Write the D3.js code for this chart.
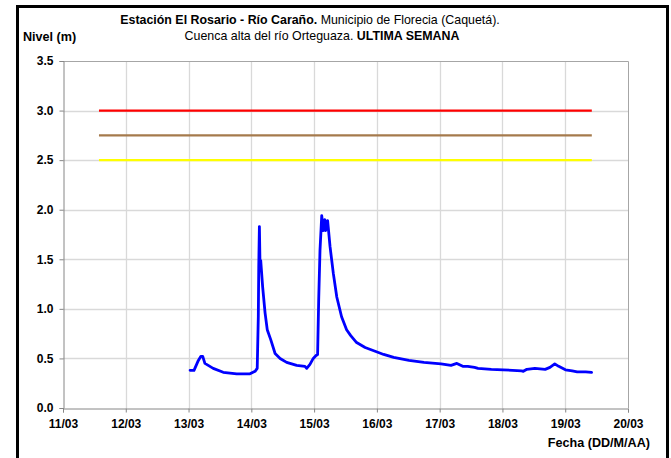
<!DOCTYPE html>
<html>
<head>
<meta charset="utf-8">
<script src="https://cdn.jsdelivr.net/npm/d3@7"></script>
<style>
  html, body { margin: 0; padding: 0; background: #fff; }
  svg { display: block; font-family: "Liberation Sans", Arial, sans-serif; }
</style>
</head>
<body>
<svg id="chart" width="671" height="458"></svg>
<script>
// ---- Data ----
const xTickLabels = ["11/03","12/03","13/03","14/03","15/03","16/03","17/03","18/03","19/03","20/03"];
const yTickValues = [0, 0.5, 1.0, 1.5, 2.0, 2.5, 3.0, 3.5];
const levelTimes = [
  "2014-03-13 00:35","2014-03-13 02:05","2014-03-13 03:45","2014-03-13 04:40","2014-03-13 05:25",
  "2014-03-13 06:15","2014-03-13 09:25","2014-03-13 13:15","2014-03-13 18:25","2014-03-13 23:30",
  "2014-03-14 01:25","2014-03-14 02:15","2014-03-14 02:40","2014-03-14 02:50","2014-03-14 03:05",
  "2014-03-14 03:20","2014-03-14 03:35","2014-03-14 04:20","2014-03-14 05:15","2014-03-14 06:05",
  "2014-03-14 07:25","2014-03-14 09:05","2014-03-14 11:00","2014-03-14 13:30","2014-03-14 17:20",
  "2014-03-14 20:30","2014-03-14 21:10","2014-03-14 22:25","2014-03-14 23:40","2014-03-15 00:45",
  "2014-03-15 01:20","2014-03-15 01:45","2014-03-15 02:15","2014-03-15 02:55","2014-03-15 03:30",
  "2014-03-15 04:05","2014-03-15 04:25","2014-03-15 05:10","2014-03-15 06:05","2014-03-15 07:20",
  "2014-03-15 08:40","2014-03-15 10:30","2014-03-15 12:25","2014-03-15 14:00","2014-03-15 16:15",
  "2014-03-15 19:30","2014-03-16 00:05","2014-03-16 02:35","2014-03-16 06:25","2014-03-16 12:15",
  "2014-03-16 18:00","2014-03-17 00:30","2014-03-17 04:20","2014-03-17 06:35","2014-03-17 08:50",
  "2014-03-17 10:45","2014-03-17 13:20","2014-03-17 14:40","2014-03-17 19:45","2014-03-18 00:15",
  "2014-03-18 07:20","2014-03-18 08:00","2014-03-18 09:20","2014-03-18 12:25","2014-03-18 16:20",
  "2014-03-18 18:10","2014-03-18 20:00","2014-03-18 21:30","2014-03-19 00:05","2014-03-19 02:40",
  "2014-03-19 04:35","2014-03-19 07:50","2014-03-19 10:05"
];
const levelValues = [
  0.38,0.38,0.48,0.52,0.52,
  0.45,0.40,0.36,0.345,0.345,
  0.37,0.40,0.92,1.42,1.83,
  1.42,1.49,1.22,0.96,0.79,
  0.69,0.55,0.50,0.46,0.43,
  0.42,0.40,0.44,0.50,0.53,
  0.54,1.09,1.59,1.94,1.79,
  1.90,1.79,1.89,1.63,1.36,
  1.12,0.92,0.79,0.73,0.66,
  0.61,0.565,0.54,0.51,0.48,
  0.46,0.445,0.43,0.45,0.42,
  0.42,0.41,0.40,0.39,0.385,
  0.375,0.37,0.39,0.40,0.39,
  0.41,0.445,0.42,0.385,0.375,
  0.365,0.365,0.36
];
const thresholdValues = [3.0, 2.75, 2.5];
const thresholdColors = ["#ff0000", "#a57a4c", "#ffff00"];
const thresholdStart = "2014-03-11 13:45";
const thresholdEnd = "2014-03-19 10:10";
const xDomain = ["2014-03-11 00:00", "2014-03-20 00:00"];

// ---- Setup ----
const parse = d3.timeParse("%Y-%m-%d %H:%M");
const svg = d3.select("#chart");
const L = 63, R = 628, T = 61, B = 408;

const x = d3.scaleTime().domain(xDomain.map(parse)).range([L, R]);
const y = d3.scaleLinear().domain([0, 3.5]).range([B, T]);
const xTicks = d3.timeDay.range(parse(xDomain[0]), d3.timeDay.offset(parse(xDomain[1]), 1));

// frame
svg.append("path")
  .attr("d", "M17.5,458 L17.5,6.5 L667.5,6.5 L667.5,458")
  .attr("fill", "none").attr("stroke", "#000").attr("stroke-width", 3);

// gridlines
svg.append("g").selectAll("line").data(yTickValues.filter(v => v > 0 && v < 3.5)).join("line")
  .attr("x1", L).attr("x2", R).attr("y1", d => Math.round(y(d)) + 0.5).attr("y2", d => Math.round(y(d)) + 0.5)
  .attr("stroke", "#d9d9d9").attr("stroke-width", 1.3);
svg.append("g").selectAll("line").data(xTicks.slice(1, -1)).join("line")
  .attr("y1", T).attr("y2", B).attr("x1", d => Math.round(x(d)) + 0.5).attr("x2", d => Math.round(x(d)) + 0.5)
  .attr("stroke", "#d9d9d9").attr("stroke-width", 1.3);

// plot border top/right
svg.append("path").attr("d", `M${L},${T + 0.5} L${R + 0.5},${T + 0.5} L${R + 0.5},${B}`)
  .attr("fill", "none").attr("stroke", "#a6a6a6").attr("stroke-width", 1);

// axes
const yAxis = d3.axisLeft(y).tickValues(yTickValues).tickFormat(d3.format(".1f")).tickSize(4).tickPadding(6);
const gy = svg.append("g").attr("transform", `translate(${L + 0.5},0)`).call(yAxis);
const xAxis = d3.axisBottom(x).tickValues(xTicks.slice(0, 10)).tickFormat((d, i) => xTickLabels[i]).tickSize(4).tickPadding(7);
const gx = svg.append("g").attr("transform", `translate(0,${B + 0.5})`).call(xAxis);
[gx, gy].forEach(g => {
  g.select(".domain").attr("stroke", "#868686");
  g.selectAll(".tick line").attr("stroke", "#868686");
  g.selectAll(".tick text").attr("font-family", "Liberation Sans, Arial, sans-serif")
    .attr("font-size", 12).attr("font-weight", "bold").attr("fill", "#000");
});

// thresholds
svg.append("g").selectAll("line").data(thresholdValues).join("line")
  .attr("x1", x(parse(thresholdStart))).attr("x2", x(parse(thresholdEnd)))
  .attr("y1", d => y(d)).attr("y2", d => y(d))
  .attr("stroke", (d, i) => thresholdColors[i]).attr("stroke-width", 2.2);

// level line
const data = levelTimes.map((t, i) => ({ t: parse(t), v: levelValues[i] }));
svg.append("path").datum(data)
  .attr("d", d3.line().x(d => x(d.t)).y(d => y(d.v)))
  .attr("fill", "none").attr("stroke", "#0000ff").attr("stroke-width", 2.8)
  .attr("stroke-linejoin", "round").attr("stroke-linecap", "round");

// titles
const t1 = svg.append("text").attr("x", 310).attr("y", 24).attr("text-anchor", "middle")
  .attr("font-size", 12.4);
t1.append("tspan").attr("font-weight", "bold").text("Estación El Rosario - Río Caraño.");
t1.append("tspan").text(" Municipio de Florecia (Caquetá).");
const t2 = svg.append("text").attr("x", 322).attr("y", 40).attr("text-anchor", "middle")
  .attr("font-size", 12.4);
t2.append("tspan").text("Cuenca alta del río Orteguaza. ");
t2.append("tspan").attr("font-weight", "bold").text("ULTIMA SEMANA");

svg.append("text").attr("x", 23).attr("y", 41).attr("font-size", 12.6).attr("font-weight", "bold")
  .text("Nivel (m)");
svg.append("text").attr("x", 650).attr("y", 447).attr("text-anchor", "end").attr("font-size", 12.6)
  .attr("font-weight", "bold").text("Fecha (DD/M/AA)");
</script>
</body>
</html>
